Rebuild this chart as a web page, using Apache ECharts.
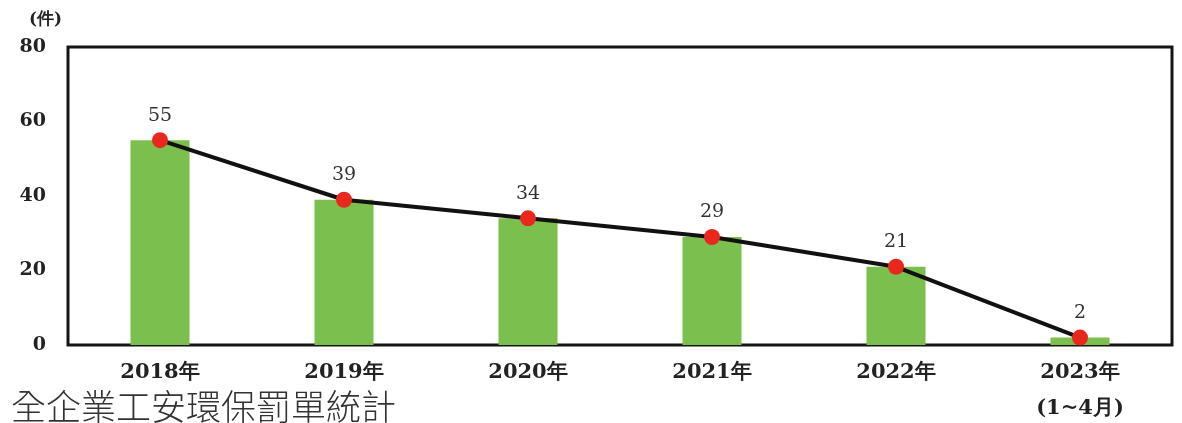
<!DOCTYPE html>
<html>
<head>
<meta charset="utf-8">
<script src="https://cdn.jsdelivr.net/npm/echarts@6/dist/echarts.min.js"></script>
<style>
  html, body { margin: 0; padding: 0; background: #fff; }
  #chart { width: 1182px; height: 423px; }
</style>
</head>
<body>
<div id="chart"></div>
<script>
// Yearly penalty ticket counts
const categories = ['2018年', '2019年', '2020年', '2021年', '2022年', '2023年\n(1~4月)'];
const counts = [55, 39, 34, 29, 21, 2];
const yTicks = [0, 20, 40, 60, 80];

const serifBold = { fontFamily: '"DejaVu Serif", "Liberation Serif", serif', fontWeight: 'bold', color: '#222' };

const chart = echarts.init(document.getElementById('chart'));
chart.setOption({
  animation: false,
  backgroundColor: '#fff',
  title: [
    {
      text: '(件)', left: 24, top: 6,
      textStyle: { ...serifBold, fontSize: 17 }
    },
    {
      text: '全企業工安環保罰單統計', left: 6, bottom: -6,
      textStyle: { fontFamily: '"Noto Sans CJK TC", sans-serif', fontWeight: 300, fontSize: 35, color: '#333' }
    }
  ],
  grid: {
    left: 68, right: 10, top: 47, bottom: 78,
    outerBoundsMode: 'none',
    show: true, borderColor: '#151515', borderWidth: 3, backgroundColor: 'transparent'
  },
  xAxis: {
    type: 'category',
    data: categories,
    axisLine: { show: false },
    axisTick: { show: false },
    axisLabel: { ...serifBold, fontSize: 21, margin: 10, lineHeight: 36 }
  },
  yAxis: {
    type: 'value',
    min: yTicks[0], max: yTicks[yTicks.length - 1], interval: 20,
    splitLine: { show: false },
    axisLine: { show: false },
    axisTick: { show: false },
    axisLabel: { ...serifBold, fontSize: 19, margin: 22, padding: [4, 0, 0, 0] }
  },
  series: [
    {
      type: 'bar',
      data: counts,
      barWidth: 59,
      itemStyle: { color: '#7bc04e' }
    },
    {
      type: 'line',
      data: counts,
      symbol: 'circle',
      symbolSize: 16,
      lineStyle: { color: '#111', width: 4 },
      itemStyle: { color: '#e8281e' },
      label: {
        show: true, position: 'top', distance: 7,
        fontFamily: '"DejaVu Serif", serif', fontSize: 19, color: '#333'
      },
      z: 3
    }
  ]
});
</script>
</body>
</html>
